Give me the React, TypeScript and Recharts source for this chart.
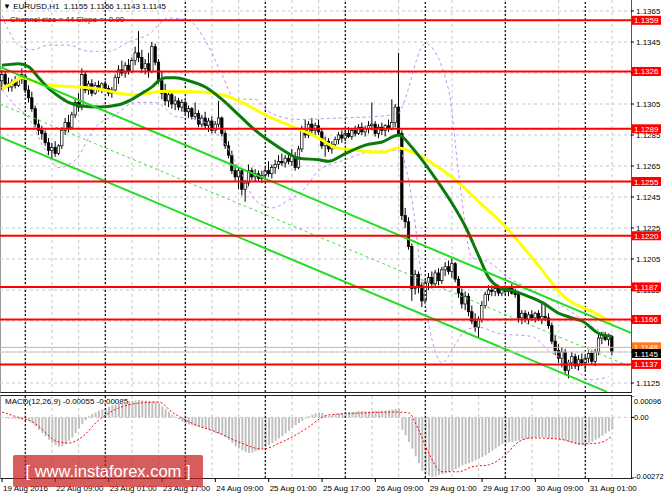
import React from 'react';
import { ComposedChart, Bar, Line, XAxis, YAxis, CartesianGrid, ReferenceLine } from 'recharts';

// EURUSD H1 candles, in pips above 1.1000: open, high, low, close
const candles: number[][] = [
  [320, 327, 314, 324], [324, 326, 316, 318], [318, 322, 313, 316], [316, 321, 313, 319], [319, 323, 315, 317],
  [317, 322, 316, 321], [321, 328, 318, 324], [323, 324, 312, 314], [314, 317, 306, 309], [309, 313, 300, 302],
  [302, 304, 290, 292], [292, 295, 285, 288], [288, 291, 282, 286], [286, 288, 278, 280], [280, 283, 272, 275],
  [275, 280, 270, 277], [277, 281, 271, 273], [273, 279, 272, 278], [278, 290, 276, 288], [288, 296, 285, 293],
  [293, 298, 287, 290], [290, 300, 289, 298], [298, 309, 296, 306], [306, 312, 300, 303], [303, 328, 301, 324],
  [324, 326, 312, 314], [314, 320, 311, 318], [318, 321, 310, 312], [312, 319, 311, 317], [317, 320, 313, 315],
  [315, 319, 312, 318], [318, 320, 314, 315], [315, 317, 310, 312], [312, 316, 309, 314], [314, 324, 313, 322],
  [322, 330, 318, 327], [327, 333, 323, 325], [325, 332, 322, 330], [330, 334, 324, 326], [326, 335, 325, 333],
  [333, 342, 330, 338], [338, 352, 332, 335], [335, 340, 325, 328], [328, 334, 324, 331], [331, 338, 322, 326],
  [326, 345, 325, 342], [342, 344, 330, 332], [332, 334, 318, 320], [320, 326, 308, 312], [312, 318, 304, 307],
  [307, 314, 303, 311], [311, 313, 302, 305], [305, 310, 301, 307], [307, 309, 301, 303], [303, 308, 300, 306],
  [306, 308, 298, 300], [300, 304, 296, 302], [302, 303, 295, 297], [297, 306, 295, 299], [299, 301, 290, 292],
  [292, 298, 290, 296], [296, 300, 289, 291], [291, 296, 287, 294], [294, 297, 286, 288], [288, 294, 286, 292],
  [292, 307, 290, 296], [296, 297, 284, 286], [286, 288, 276, 278], [278, 281, 270, 272], [272, 275, 260, 262],
  [262, 266, 255, 258], [258, 264, 250, 262], [262, 263, 246, 250], [250, 256, 242, 254], [254, 266, 252, 262],
  [262, 264, 256, 258], [258, 263, 255, 260], [260, 262, 255, 257], [257, 262, 254, 259], [259, 264, 256, 262],
  [262, 268, 258, 260], [260, 266, 257, 264], [264, 269, 260, 266], [266, 272, 263, 268], [268, 273, 265, 267],
  [267, 272, 264, 270], [270, 274, 266, 268], [268, 276, 265, 271], [271, 274, 262, 264], [264, 278, 263, 276],
  [276, 291, 274, 288], [288, 295, 283, 285], [285, 294, 283, 292], [292, 296, 286, 288], [288, 293, 284, 291],
  [291, 295, 285, 287], [287, 289, 276, 278], [278, 284, 271, 281], [281, 283, 274, 276], [276, 281, 273, 279],
  [279, 284, 276, 282], [282, 287, 279, 285], [285, 288, 280, 283], [283, 288, 281, 286], [286, 290, 283, 284],
  [284, 289, 282, 288], [288, 291, 284, 286], [286, 292, 285, 290], [290, 293, 285, 287], [287, 291, 284, 289],
  [289, 294, 286, 291], [291, 306, 288, 292], [292, 294, 284, 286], [286, 292, 283, 290], [290, 293, 285, 288],
  [288, 292, 284, 291], [291, 295, 287, 289], [289, 308, 288, 293], [293, 305, 290, 303], [303, 338, 284, 286],
  [286, 288, 230, 233], [233, 238, 225, 229], [229, 232, 211, 213], [213, 215, 178, 186], [186, 198, 182, 195],
  [195, 197, 183, 188], [188, 190, 174, 178], [178, 192, 176, 190], [190, 196, 185, 193], [193, 197, 186, 189],
  [189, 198, 187, 196], [196, 199, 188, 191], [191, 200, 189, 198], [198, 203, 194, 200], [200, 204, 195, 197],
  [197, 205, 193, 202], [202, 203, 190, 192], [192, 194, 180, 183], [183, 186, 173, 176], [176, 184, 172, 181],
  [181, 183, 168, 171], [171, 175, 163, 165], [165, 170, 158, 161], [161, 168, 154, 166], [166, 178, 164, 175],
  [175, 184, 173, 182], [182, 188, 178, 185], [185, 188, 181, 184], [184, 187, 181, 186], [186, 188, 181, 183],
  [183, 187, 181, 185], [185, 188, 182, 184], [184, 187, 181, 186], [186, 189, 182, 183], [183, 186, 180, 182],
  [182, 184, 164, 167], [167, 172, 163, 170], [170, 172, 164, 166], [166, 171, 163, 169], [169, 172, 165, 167],
  [167, 171, 164, 170], [170, 172, 165, 166], [166, 176, 163, 168], [168, 176, 165, 167], [167, 170, 160, 162],
  [162, 164, 150, 152], [152, 156, 143, 146], [146, 150, 138, 141], [141, 148, 135, 145], [145, 147, 130, 133],
  [133, 140, 128, 138], [138, 145, 134, 142], [142, 144, 134, 136], [136, 143, 133, 140], [140, 144, 136, 138],
  [138, 143, 133, 141], [141, 146, 138, 144], [144, 146, 137, 139], [139, 147, 136, 145], [145, 156, 143, 154],
  [154, 158, 150, 156], [156, 158, 152, 153], [153, 157, 149, 155], [155, 156, 143, 145],
];

// indicator lines: [bar, pips above 1.1000]
const fastMa = [
  [0, 330], [5, 331], [8, 329], [11, 322], [14, 315], [17, 310], [20, 306], [23, 304], [29, 303], [35, 304.5],
  [39, 308], [42, 312], [45, 316], [47, 320], [49, 322], [52, 322], [56, 320], [61, 316], [66, 308], [71, 298],
  [76, 288], [81, 280], [86, 273], [89, 270], [95, 269], [98, 268], [103, 273], [109, 278.5], [114, 280.5],
  [119, 285], [123, 277], [126, 269], [131, 254], [135, 241], [139, 226], [143, 207], [146, 193], [149, 187],
  [154, 184], [159, 180], [162, 177], [167, 170], [171, 167], [174, 165], [179, 157], [183, 155],
];
const slowMa = [
  [0, 315], [2, 317], [6, 322], [11, 318.6], [17, 316.6], [23, 316], [29, 314.7], [35, 312], [39, 311], [44, 312],
  [47, 313], [56, 313], [66, 311], [72, 306], [79, 298], [86, 291.5], [91, 287], [95, 283], [100, 277], [107, 275],
  [114, 274], [119, 276.6], [123, 274], [129, 267], [136, 256], [143, 242], [151, 226], [157, 211], [162, 198],
  [167, 184], [171, 177], [174, 174], [179, 169], [183, 164],
];
const bandTop = [
  [0, 362], [5, 343], [9, 340], [14, 343], [20, 343], [26, 339], [32, 339], [38, 345], [44, 350], [50, 360.5],
  [56, 359], [61, 346], [66, 324], [70, 308], [76, 308], [80, 300], [89, 295], [101, 296], [113, 297], [119, 299],
  [120, 303], [127, 344], [134, 314], [137, 260], [141, 206], [146, 203], [152, 193], [159, 185], [170, 172],
  [179, 159], [183, 156],
];
const bandBottom = [
  [0, 314], [4, 304], [8, 296], [13, 275], [17, 264], [22, 269], [28, 290], [34, 298], [40, 306], [46, 306],
  [52, 297], [59, 295], [66, 282], [71, 264], [76, 243], [81, 238], [86, 243], [91, 251], [95, 262], [103, 269],
  [110, 274], [119, 275], [123, 243], [126, 191], [129, 153], [132, 138], [136, 150], [139, 159], [143, 161],
  [149, 157], [159, 155], [164, 146], [172, 135], [176, 127], [182, 129],
];

// MACD(12,26,9) histogram, in 0.00001 units, one per bar
const macdHist = [
  -2, -4, -5, -6, -7, -8, -10, -12, -15, -25, -40, -55, -70, -85, -100, -115, -125, -132, -130, -120,
  -105, -90, -70, -50, -30, -12, 5, 15, 22, 30, 36, 42, 48, 54, 58, 62, 66, 70, 72, 74,
  76, 78, 77, 76, 74, 72, 70, 62, 50, 38, 25, 12, 0, -10, -20, -28, -32, -36, -40, -44,
  -48, -52, -56, -62, -70, -75, -80, -90, -100, -115, -130, -140, -148, -155, -160, -158, -152, -146, -140, -132,
  -125, -115, -105, -95, -85, -72, -60, -45, -35, -25, -15, -5, 5, 12, 18, 22, 20, 10, 6, 10,
  15, 18, 20, 22, 24, 25, 26, 28, 28, 27, 26, 28, 30, 30, 29, 30, 32, 35, 38, 40,
  -56, -80, -110, -140, -175, -205, -240, -255, -262, -267, -265, -260, -255, -250, -245, -240, -232, -225, -215, -210,
  -205, -200, -192, -185, -178, -170, -160, -150, -140, -130, -120, -116, -112, -110, -106, -104, -100, -98, -96, -92,
  -90, -88, -88, -90, -92, -94, -96, -98, -100, -105, -110, -115, -120, -124, -125, -120, -115, -108, -100, -92,
  -82, -72, -62, -55,
];
const macdSignal = [
  [0, 24], [5, 0], [9, -19], [17, -110], [20, -115], [24, -88], [29, -12], [35, 42], [41, 64], [47, 69],
  [51, 24], [56, -19], [65, -70], [71, -110], [78, -142], [84, -110], [92, -43], [96, 0], [98, 11], [108, 20],
  [118, 24], [122, 20], [125, -56], [128, -160], [132, -244], [137, -244], [141, -222], [146, -213], [151, -168],
  [155, -110], [159, -92], [167, -97], [174, -119], [179, -115], [183, -85],
];

const levels = ['1.1359', '1.1326', '1.1289', '1.1255', '1.1220', '1.1187', '1.1166', '1.1137'];
const priceTicks = [1.1365, 1.1345, 1.1325, 1.1305, 1.1285, 1.1265, 1.1245, 1.1225, 1.1205, 1.1185, 1.1165, 1.1145, 1.1125];
const dateTicks = [0, 16, 32, 48, 64, 80, 96, 112, 128, 144, 160, 176];
const dateLabels = [
  '19 Aug 2016', '22 Aug 09:00', '23 Aug 01:00', '23 Aug 17:00', '24 Aug 09:00', '25 Aug 01:00',
  '25 Aug 17:00', '26 Aug 09:00', '29 Aug 01:00', '29 Aug 17:00', '30 Aug 09:00', '31 Aug 01:00',
];
const gridBars = [7, 15, 23, 31, 39, 47, 55, 63, 71, 79, 87, 95, 103, 111, 119, 127, 135, 143, 151, 159, 167, 175, 183];
const dayBars = [7, 31, 55, 79, 103, 127, 151, 175];
const channelTop = [[-0.6, 1.13289], [188.7, 1.11573]];
const channelMid = [[-0.6, 1.1305], [188.7, 1.11354]];
const channelLow = [[-0.6, 1.12837], [181.5, 1.11193]];

const X_DOMAIN = [-0.6, 188.7];
const PRICE_DOMAIN = [1.11192, 1.13721];
const FONT = '"Liberation Sans", Arial, sans-serif';

const px = (v: number) => +(1.1 + v / 10000).toFixed(5);

const rows: any[] = candles.map(([o, h, l, c], i) => ({
  i, o: px(o), h: px(h), l: px(l), c: px(c), range: [px(l), px(h)],
}));
fastMa.forEach(([i, v]) => { rows[i].fast = px(v); });
slowMa.forEach(([i, v]) => { rows[i].slow = px(v); });
bandTop.forEach(([i, v]) => { rows[i].bbTop = px(v); });
bandBottom.forEach(([i, v]) => { rows[i].bbLow = px(v); });

const macdRows: any[] = macdHist.map((v, i) => ({ i, hist: v / 100000 }));
macdSignal.forEach(([i, v]) => { macdRows[i].signal = v / 100000; });

const Candle = (props: any) => {
  const { x, y, width, height, payload } = props;
  if (!payload || height == null) return <g />;
  const top = Math.min(y, y + height);
  const bottom = Math.max(y, y + height);
  const k = (bottom - top) / (payload.h - payload.l || 1);
  const cx = x + width / 2;
  const yo = top + (payload.h - payload.o) * k;
  const yc = top + (payload.h - payload.c) * k;
  const up = payload.c >= payload.o;
  return (
    <g>
      <line x1={cx} x2={cx} y1={top} y2={bottom} stroke="#000" strokeWidth={1} />
      <rect
        x={cx - 1.2}
        y={Math.min(yo, yc)}
        width={2.4}
        height={Math.max(Math.abs(yc - yo), 0.8)}
        fill={up ? '#fff' : '#000'}
        stroke="#000"
        strokeWidth={0.7}
      />
    </g>
  );
};

const PriceTag = (props: any) => {
  const { viewBox, text, fill = '#ff0000', color = '#fff', shift = 0 } = props;
  if (!viewBox) return null;
  const x = viewBox.x + viewBox.width + 1;
  const y = viewBox.y + shift;
  return (
    <g>
      <rect x={x} y={y - 4.5} width={29} height={9} fill={fill} />
      <text x={x + 2} y={y + 3} fontSize={8} fill={color} fontFamily={FONT}>{text}</text>
    </g>
  );
};

const DateTick = (props: any) => {
  const { x, y, payload } = props;
  const idx = dateTicks.indexOf(payload.value);
  return (
    <text x={x + 1} y={y + 7} fontSize={8} fill="#000" fontFamily={FONT}>{dateLabels[idx]}</text>
  );
};

const MacdTick = (props: any) => {
  const { x, y, payload } = props;
  const v = payload.value;
  const dy = v > 0 ? 5 : v < 0 ? -2 : 0;
  const txt = v === 0 ? '0.00' : v.toFixed(5);
  return (
    <text x={x - 2} y={y + dy + 3} fontSize={7.5} fill="#000" fontFamily={FONT}>{txt}</text>
  );
};

const App = () => {
  return (
    <div style={{ position: 'absolute', left: 0, top: 0, width: 664, height: 498, background: '#fff', overflow: 'hidden', fontFamily: FONT }}>
      {/* panel frames */}
      <div style={{ position: 'absolute', left: 0, top: 0, width: 632, height: 393, borderLeft: '1px solid #999', borderRight: '1px solid #555', borderBottom: '1px solid #222', boxSizing: 'border-box' }} />
      <div style={{ position: 'absolute', left: 0, top: 395, width: 632, height: 84, border: '1px solid #222', borderLeftColor: '#999', boxSizing: 'border-box' }} />

      <div style={{ position: 'absolute', left: 3, top: 2, fontSize: 8, color: '#000', whiteSpace: 'pre' }}>
        {'▼ EURUSD,H1  1.1155 1.1156 1.1143 1.1145'}
      </div>
      <div style={{ position: 'absolute', left: 10, top: 15, fontSize: 8, color: '#222', whiteSpace: 'pre' }}>
        {'Channel size = 44 Slope = -0.90'}
      </div>

      <div style={{ position: 'absolute', left: 0, top: 0 }}>
        <ComposedChart width={664} height={392} data={rows} margin={{ top: 0, right: 0, bottom: 0, left: 0 }}>
          <CartesianGrid stroke="#c8c8c8" strokeDasharray="3 3" horizontalValues={priceTicks} verticalValues={gridBars} />
          <XAxis type="number" dataKey="i" domain={X_DOMAIN} allowDataOverflow hide ticks={gridBars} />
          <YAxis
            orientation="right"
            width={33}
            domain={PRICE_DOMAIN}
            allowDataOverflow
            ticks={priceTicks}
            interval={0}
            axisLine={false}
            tickSize={3}
            tickLine={{ stroke: '#000' }}
            tick={{ fontSize: 8, fill: '#000', fontFamily: FONT }}
            tickFormatter={(v: number) => v.toFixed(4)}
          />
          {dayBars.map((b) => (
            <ReferenceLine key={'d' + b} x={b} stroke="#222" strokeWidth={1.4} strokeDasharray="2 2" />
          ))}
          <Bar dataKey="range" barSize={3} shape={<Candle />} isAnimationActive={false} />
          <Line dataKey="bbTop" type="monotone" stroke="#c38cf5" strokeWidth={1} strokeDasharray="3 3" dot={false} connectNulls isAnimationActive={false} />
          <Line dataKey="bbLow" type="monotone" stroke="#c38cf5" strokeWidth={1} strokeDasharray="3 3" dot={false} connectNulls isAnimationActive={false} />
          <Line dataKey="slow" type="monotone" stroke="#ffff00" strokeWidth={3} dot={false} connectNulls isAnimationActive={false} />
          <Line dataKey="fast" type="monotone" stroke="#0a7a0a" strokeWidth={3} dot={false} connectNulls isAnimationActive={false} />
          <ReferenceLine
            segment={[{ x: channelTop[0][0], y: channelTop[0][1] }, { x: channelTop[1][0], y: channelTop[1][1] }]}
            stroke="#22dd22" strokeWidth={2} ifOverflow="visible"
          />
          <ReferenceLine
            segment={[{ x: channelMid[0][0], y: channelMid[0][1] }, { x: channelMid[1][0], y: channelMid[1][1] }]}
            stroke="#44dd44" strokeWidth={1} strokeDasharray="3 3" ifOverflow="visible"
          />
          <ReferenceLine
            segment={[{ x: channelLow[0][0], y: channelLow[0][1] }, { x: channelLow[1][0], y: channelLow[1][1] }]}
            stroke="#22dd22" strokeWidth={2} ifOverflow="visible"
          />
          <ReferenceLine y={1.1148} stroke="#ffa07a" strokeWidth={1} />
          <ReferenceLine y={1.1145} stroke="#c8c8c8" strokeWidth={1} />
          {levels.map((lv) => (
            <ReferenceLine key={lv} y={+lv} stroke="#ff0000" strokeWidth={2} />
          ))}
        </ComposedChart>
      </div>

      {/* price tags drawn over the axis labels, same scale */}
      <div style={{ position: 'absolute', left: 0, top: 0 }}>
        <ComposedChart width={664} height={392} data={rows} margin={{ top: 0, right: 0, bottom: 0, left: 0 }}>
          <XAxis type="number" dataKey="i" domain={X_DOMAIN} allowDataOverflow hide />
          <YAxis orientation="right" width={33} domain={PRICE_DOMAIN} allowDataOverflow tick={false} axisLine={false} tickLine={false} />
          <ReferenceLine y={1.1148} stroke="none" label={<PriceTag text="1.1148" fill="#ff7a1a" shift={-0.5} />} />
          <ReferenceLine y={1.1145} stroke="none" label={<PriceTag text="1.1145" fill="#000" shift={1.5} />} />
          {levels.map((lv) => (
            <ReferenceLine key={'t' + lv} y={+lv} stroke="none" label={<PriceTag text={lv} />} />
          ))}
        </ComposedChart>
      </div>

      <div style={{ position: 'absolute', left: 5, top: 397, fontSize: 8, color: '#000', whiteSpace: 'pre' }}>
        {'MACD(12,26,9) -0.00055 -0.00085'}
      </div>

      <div style={{ position: 'absolute', left: 0, top: 396 }}>
        <ComposedChart width={664} height={102} data={macdRows} margin={{ top: 0, right: 0, bottom: 0, left: 0 }}>
          <CartesianGrid stroke="#c8c8c8" strokeDasharray="3 3" horizontalValues={[0]} verticalValues={gridBars} />
          <XAxis
            type="number"
            dataKey="i"
            domain={X_DOMAIN}
            allowDataOverflow
            ticks={dateTicks}
            interval={0}
            height={20}
            axisLine={false}
            tickSize={4}
            tickLine={{ stroke: '#000' }}
            tick={<DateTick />}
          />
          <YAxis
            orientation="right"
            width={33}
            domain={[-0.00272, 0.00096]}
            allowDataOverflow
            ticks={[0.00096, 0, -0.00272]}
            interval={0}
            axisLine={false}
            tickSize={3}
            tickLine={{ stroke: '#000' }}
            tick={<MacdTick />}
          />
          {dayBars.map((b) => (
            <ReferenceLine key={'m' + b} x={b} stroke="#222" strokeWidth={1.4} strokeDasharray="2 2" />
          ))}
          <Bar dataKey="hist" fill="#c0c0c0" barSize={2} isAnimationActive={false} />
          <Line dataKey="signal" type="monotone" stroke="#ff0000" strokeWidth={1} strokeDasharray="2 2" dot={false} connectNulls isAnimationActive={false} />
        </ComposedChart>
      </div>

      {/* watermark */}
      <div style={{ position: 'absolute', left: 13, top: 455, width: 190, height: 32, background: 'rgba(200,30,30,0.72)', borderRadius: 2, color: '#fff', fontSize: 16.5, lineHeight: '32px', whiteSpace: 'pre', textAlign: 'center', fontFamily: FONT }}>
        {'[ www.instaforex.com ]'}
      </div>
    </div>
  );
};

export default App;
